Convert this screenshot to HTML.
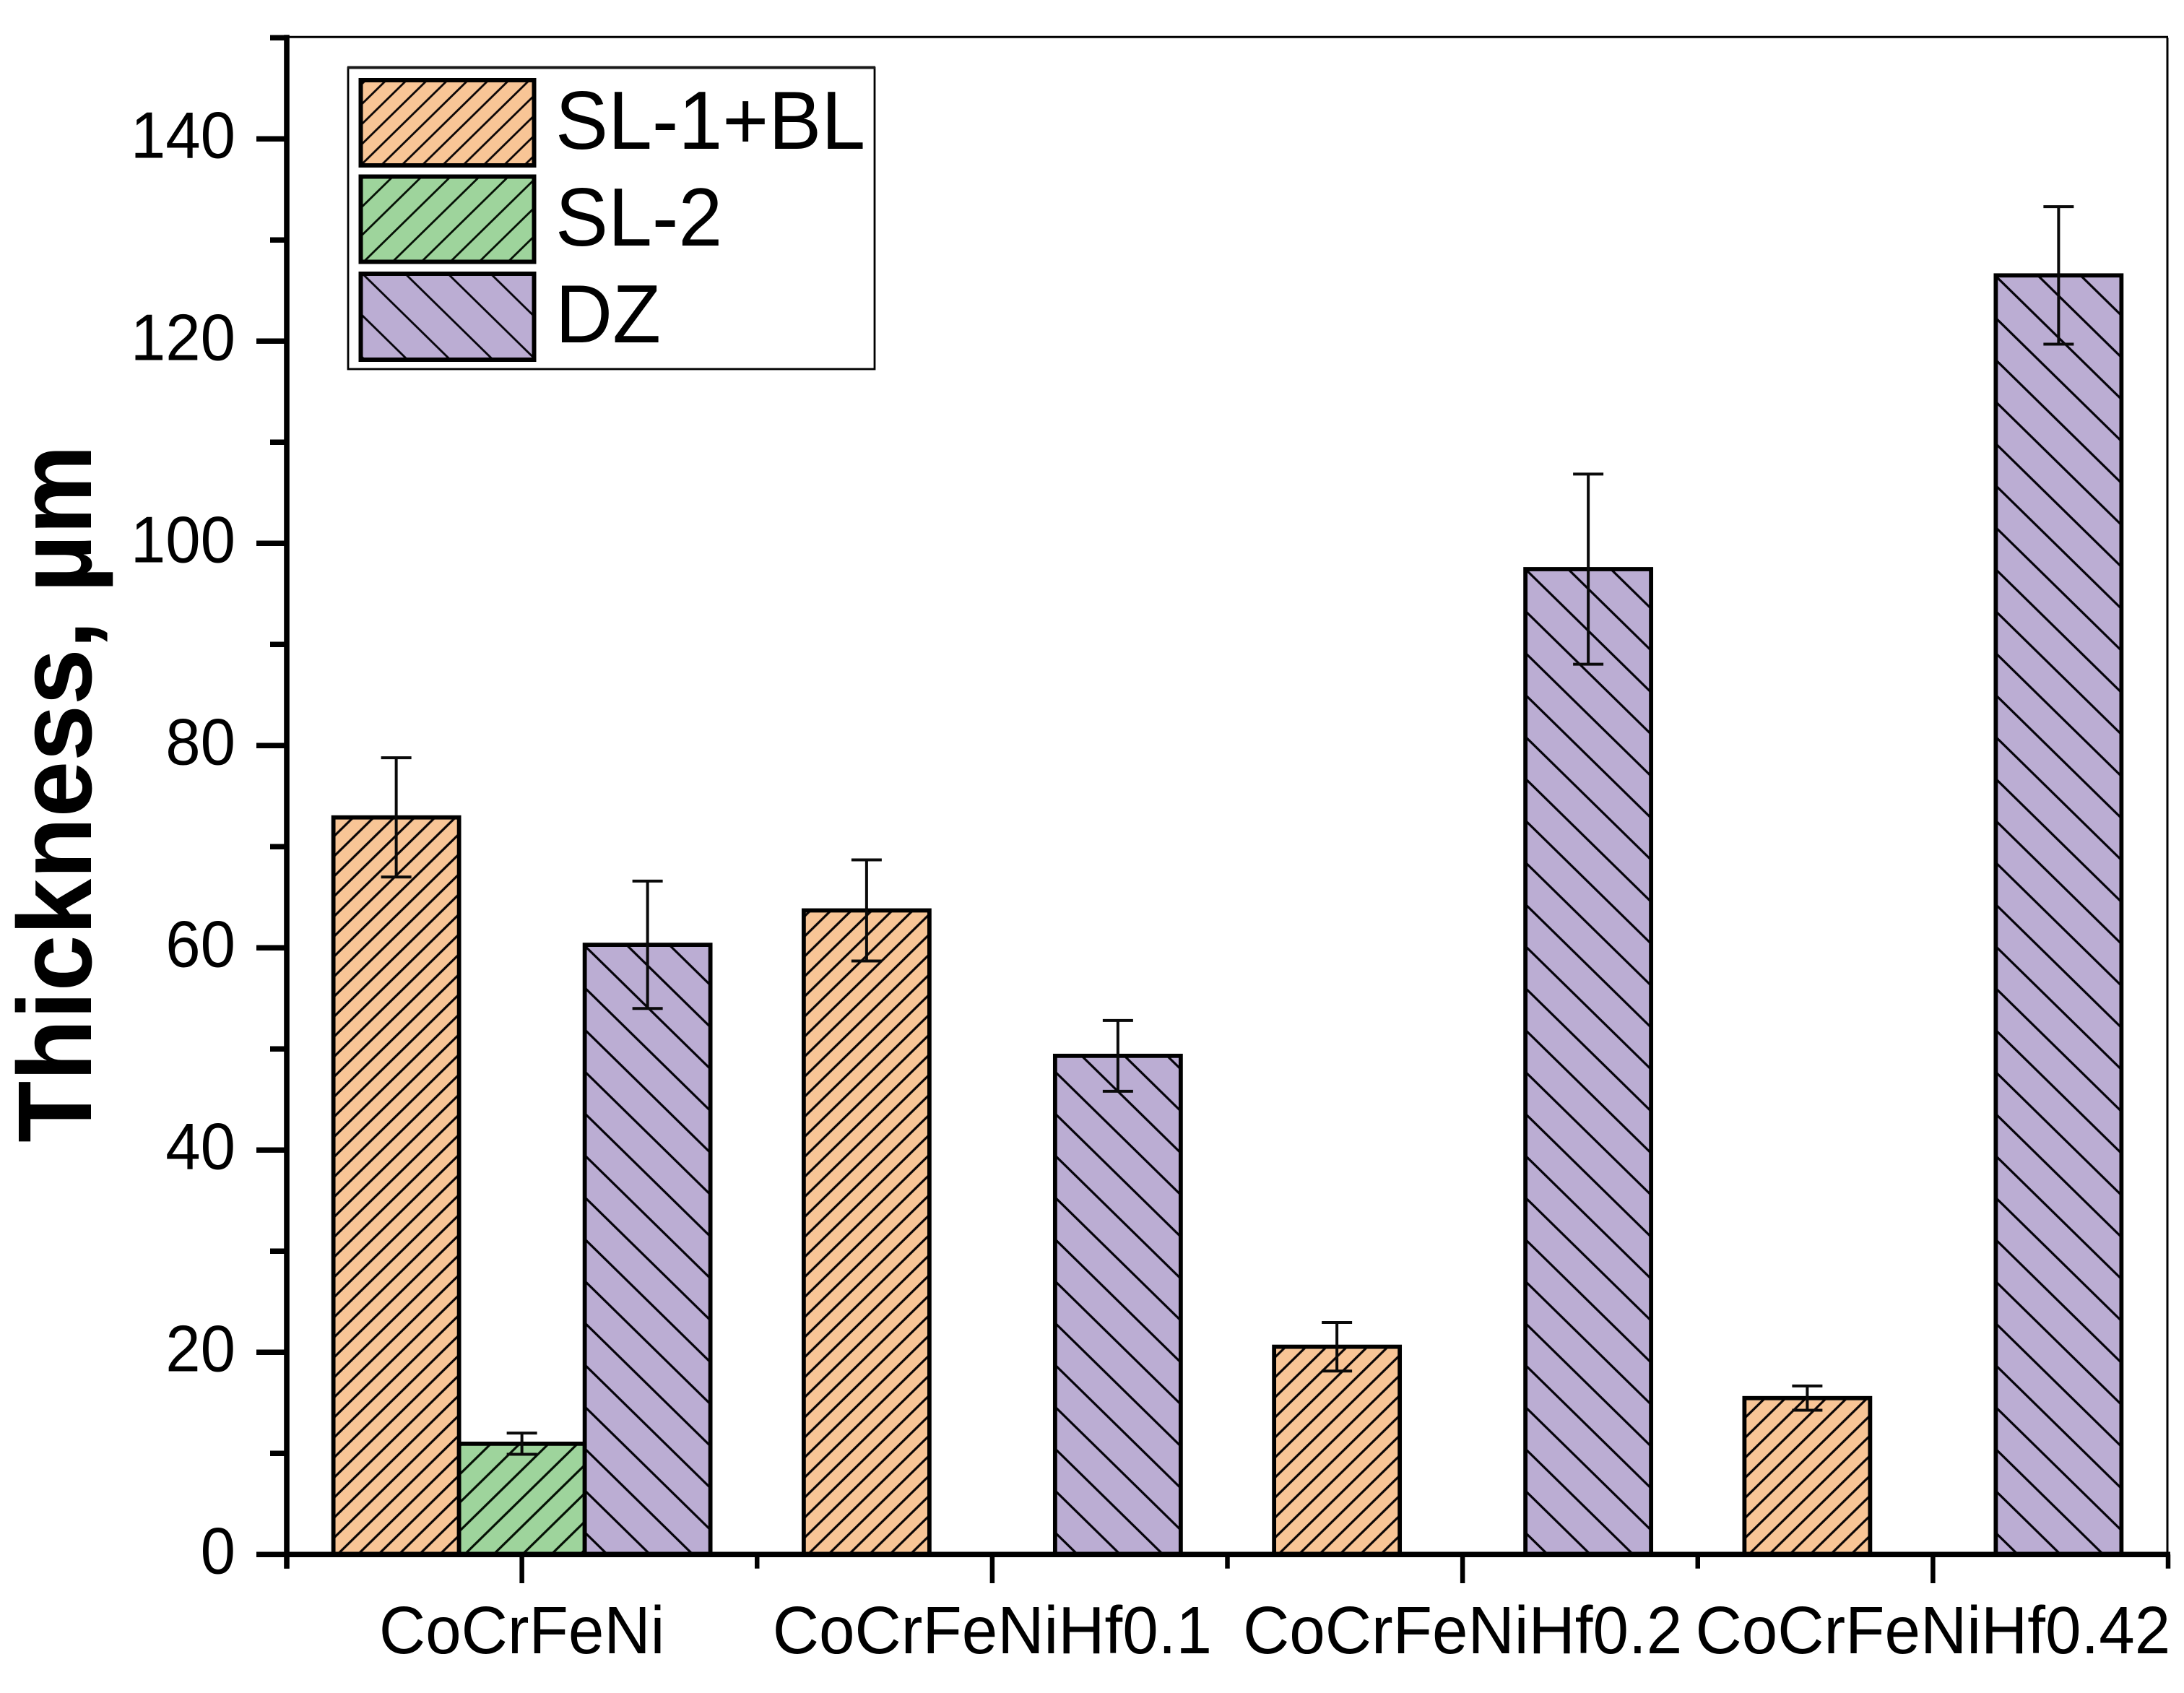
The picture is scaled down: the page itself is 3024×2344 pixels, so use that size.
<!DOCTYPE html>
<html lang="en">
<head>
<meta charset="utf-8">
<title>Thickness by alloy</title>
<style>
html,body{margin:0;padding:0;background:#fff;}
svg{display:block;font-family:"Liberation Sans",Arial,sans-serif;}
</style>
</head>
<body>
<svg id="chart" xmlns="http://www.w3.org/2000/svg" width="3024" height="2344" viewBox="0 0 3024 2344">
  <defs>
    <pattern id="h-orange" patternUnits="userSpaceOnUse" width="28.32" height="27.75" patternTransform="translate(0,1.5)">
      <rect width="28.32" height="27.75" fill="#F8C596"/>
      <path d="M-2.83,30.52L31.15,-2.78M-2.83,2.77L2.83,-2.77M25.49,30.52L31.15,24.97" stroke="#0a0505" stroke-width="3.2" fill="none"/>
    </pattern>
    <pattern id="h-green" patternUnits="userSpaceOnUse" width="40" height="39.2" patternTransform="translate(0,38.6)">
      <rect width="40" height="39.2" fill="#9ED49C"/>
      <path d="M-4,43.12L44,-3.92M-4,3.92L4,-3.92M36,43.12L44,35.28" stroke="#051005" stroke-width="3.2" fill="none"/>
    </pattern>
    <pattern id="h-purple" patternUnits="userSpaceOnUse" width="59.18" height="58" patternTransform="translate(0,52)">
      <rect width="59.18" height="58" fill="#BBADD3"/>
      <path d="M-4,-3.92L63.18,61.92M-4,54.08L4,61.92M55.18,-3.92L63.18,3.92" stroke="#05030a" stroke-width="3.2" fill="none"/>
    </pattern>
    <pattern id="l-orange" patternUnits="userSpaceOnUse" width="28.32" height="27.75" patternTransform="translate(0,24.5)">
      <rect width="28.32" height="27.75" fill="#F8C596"/>
      <path d="M-2.83,30.52L31.15,-2.78M-2.83,2.77L2.83,-2.77M25.49,30.52L31.15,24.97" stroke="#0a0505" stroke-width="2.8" fill="none"/>
    </pattern>
    <pattern id="l-green" patternUnits="userSpaceOnUse" width="40" height="39.2" patternTransform="translate(0,32.7)">
      <rect width="40" height="39.2" fill="#9ED49C"/>
      <path d="M-4,43.12L44,-3.92M-4,3.92L4,-3.92M36,43.12L44,35.28" stroke="#051005" stroke-width="2.8" fill="none"/>
    </pattern>
    <pattern id="l-purple" patternUnits="userSpaceOnUse" width="59.18" height="58" patternTransform="translate(0,3.1)">
      <rect width="59.18" height="58" fill="#BBADD3"/>
      <path d="M-4,-3.92L63.18,61.92M-4,54.08L4,61.92M55.18,-3.92L63.18,3.92" stroke="#05030a" stroke-width="2.8" fill="none"/>
    </pattern>
  </defs>

  <g id="marks"></g>
  <g id="axes"></g>

  <text transform="translate(126,1582) rotate(-90) scale(1,1.04)" font-size="139.8" font-weight="bold" fill="#000">Thickness, µm</text>

  <g>
    <rect x="482" y="94" width="729" height="417" fill="#fff" stroke="#000" stroke-width="2.8"/>
    <line x1="481" y1="93.5" x2="1212" y2="93.5" stroke="#1a1a1a" stroke-width="4"/>
    <g>
      <rect x="499.5" y="111" width="240" height="118" fill="url(#l-orange)" stroke="#000" stroke-width="6"/>
      <text transform="translate(769,206) scale(1,1.04)" font-size="109.5" fill="#000">SL-1+BL</text>
    </g>
    <g>
      <rect x="499.5" y="244.5" width="240" height="118" fill="url(#l-green)" stroke="#000" stroke-width="6"/>
      <text transform="translate(769,340) scale(1,1.04)" font-size="109.5" fill="#000">SL-2</text>
    </g>
    <g>
      <rect x="499.5" y="379" width="240" height="119" fill="url(#l-purple)" stroke="#000" stroke-width="6"/>
      <text transform="translate(769,474) scale(1,1.04)" font-size="109.5" fill="#000">DZ</text>
    </g>
  </g>
</svg>

<script>
// ---- chart data ----
const categories = ["CoCrFeNi", "CoCrFeNiHf0.1", "CoCrFeNiHf0.2", "CoCrFeNiHf0.42"];
const seriesNames = ["SL-1+BL", "SL-2", "DZ"];
const sl1Values = [72.9, 63.7, 20.55, 15.47];
const sl2Values = [10.96, null, null, null];
const dzValues = [60.3, 49.32, 97.45, 126.5];
const sl1Errors = [5.9, 5.0, 2.4, 1.2];
const sl2Errors = [1.05, null, null, null];
const dzErrors = [6.3, 3.5, 9.4, 6.8];
const majorTickValues = [0, 20, 40, 60, 80, 100, 120, 140];
const minorTickValues = [10, 30, 50, 70, 90, 110, 130, 150];
const yMin = 0;
const yMax = 150;

// ---- scales ----
const NS = "http://www.w3.org/2000/svg";
const plotLeft = 397, plotRight = 3002, plotBottom = 2152.3, plotTop = 52.3;
const barWidth = 174;
function yScale(v) {
  return plotBottom - (v - yMin) / (yMax - yMin) * (plotBottom - plotTop);
}
function xCenter(i) {
  return plotLeft + (plotRight - plotLeft) * (i + 0.5) / categories.length;
}
function xBar(i, s) {
  return xCenter(i) + (s - 1.5) * barWidth;
}
function make(tag, attrs, parent) {
  const el = document.createElementNS(NS, tag);
  for (const k in attrs) el.setAttribute(k, attrs[k]);
  parent.appendChild(el);
  return el;
}

const marks = document.getElementById("marks");
const axes = document.getElementById("axes");
const seriesValues = [sl1Values, sl2Values, dzValues];
const seriesErrors = [sl1Errors, sl2Errors, dzErrors];
const seriesFill = ["url(#h-orange)", "url(#h-green)", "url(#h-purple)"];
const seriesSlug = ["sl-1-bl", "sl-2", "dz"];

// bars
seriesValues.forEach(function (vals, s) {
  vals.forEach(function (v, i) {
    if (v === null) return;
    const x = xBar(i, s);
    const y = yScale(v);
    const bar = make("rect", {
      x: x, y: y, width: barWidth, height: plotBottom - y,
      fill: seriesFill[s], stroke: "#000", "stroke-width": 5.8
    }, marks);
    
    
  });
});

// error bars
seriesErrors.forEach(function (errs, s) {
  errs.forEach(function (e, i) {
    if (e === null) return;
    const v = seriesValues[s][i];
    const cx = xBar(i, s) + barWidth / 2;
    const top = yScale(v + e);
    const bot = yScale(v - e);
    const g = make("path", {
      d: "M" + cx + "," + top + "V" + bot + "M" + (cx - 21) + "," + top + "H" + (cx + 21) + "M" + (cx - 21) + "," + bot + "H" + (cx + 21),
      fill: "none", stroke: "#0a0a0a", "stroke-width": 4
    }, marks);
    
    
  });
});

// frame
const frameTop = make("line", { x1: plotLeft, y1: yScale(yMax) - 1, x2: plotRight, y2: yScale(yMax) - 1, stroke: "#000", "stroke-width": 3 }, axes);


const frameRight = make("line", { x1: plotRight - 1, y1: yScale(yMax), x2: plotRight - 1, y2: plotBottom, stroke: "#000", "stroke-width": 3 }, axes);



// axis lines
const yAxisLine = make("line", { x1: plotLeft, y1: yScale(yMax) - 4, x2: plotLeft, y2: 2171.7, stroke: "#000", "stroke-width": 7.6 }, axes);


const xAxisLine = make("line", { x1: plotLeft, y1: plotBottom, x2: plotRight + 3, y2: plotBottom, stroke: "#000", "stroke-width": 7.5 }, axes);



// y ticks
majorTickValues.forEach(function (v) {
  const t = make("line", { x1: 355, y1: yScale(v), x2: plotLeft, y2: yScale(v), stroke: "#000", "stroke-width": 7.5 }, axes);
  
  
  const lab = make("text", { transform: "translate(326," + (yScale(v) + 26) + ") scale(1,1.04)", "text-anchor": "end", "font-size": 87, fill: "#000" }, axes);
  lab.textContent = String(v);
  
  
});
minorTickValues.forEach(function (v) {
  const t = make("line", { x1: 374, y1: yScale(v), x2: plotLeft, y2: yScale(v), stroke: "#000", "stroke-width": 7.5 }, axes);
  
  
});

// x ticks & labels
categories.forEach(function (c, i) {
  const cx = xCenter(i);
  const t = make("line", { x1: cx, y1: plotBottom, x2: cx, y2: 2192, stroke: "#000", "stroke-width": 6.5 }, axes);
  
  
  const lab = make("text", { transform: "translate(" + cx + ",2289) scale(1,1.04)", "text-anchor": "middle", "font-size": 89, fill: "#000" }, axes);
  lab.textContent = c;
  
  
});
for (let i = 0; i <= categories.length; i++) {
  const mx = plotLeft + (plotRight - plotLeft) * i / categories.length;
  const t = make("line", { x1: mx, y1: plotBottom, x2: mx, y2: 2171.7, stroke: "#000", "stroke-width": 6.5 }, axes);
  
  
}
</script>
</body>
</html>
